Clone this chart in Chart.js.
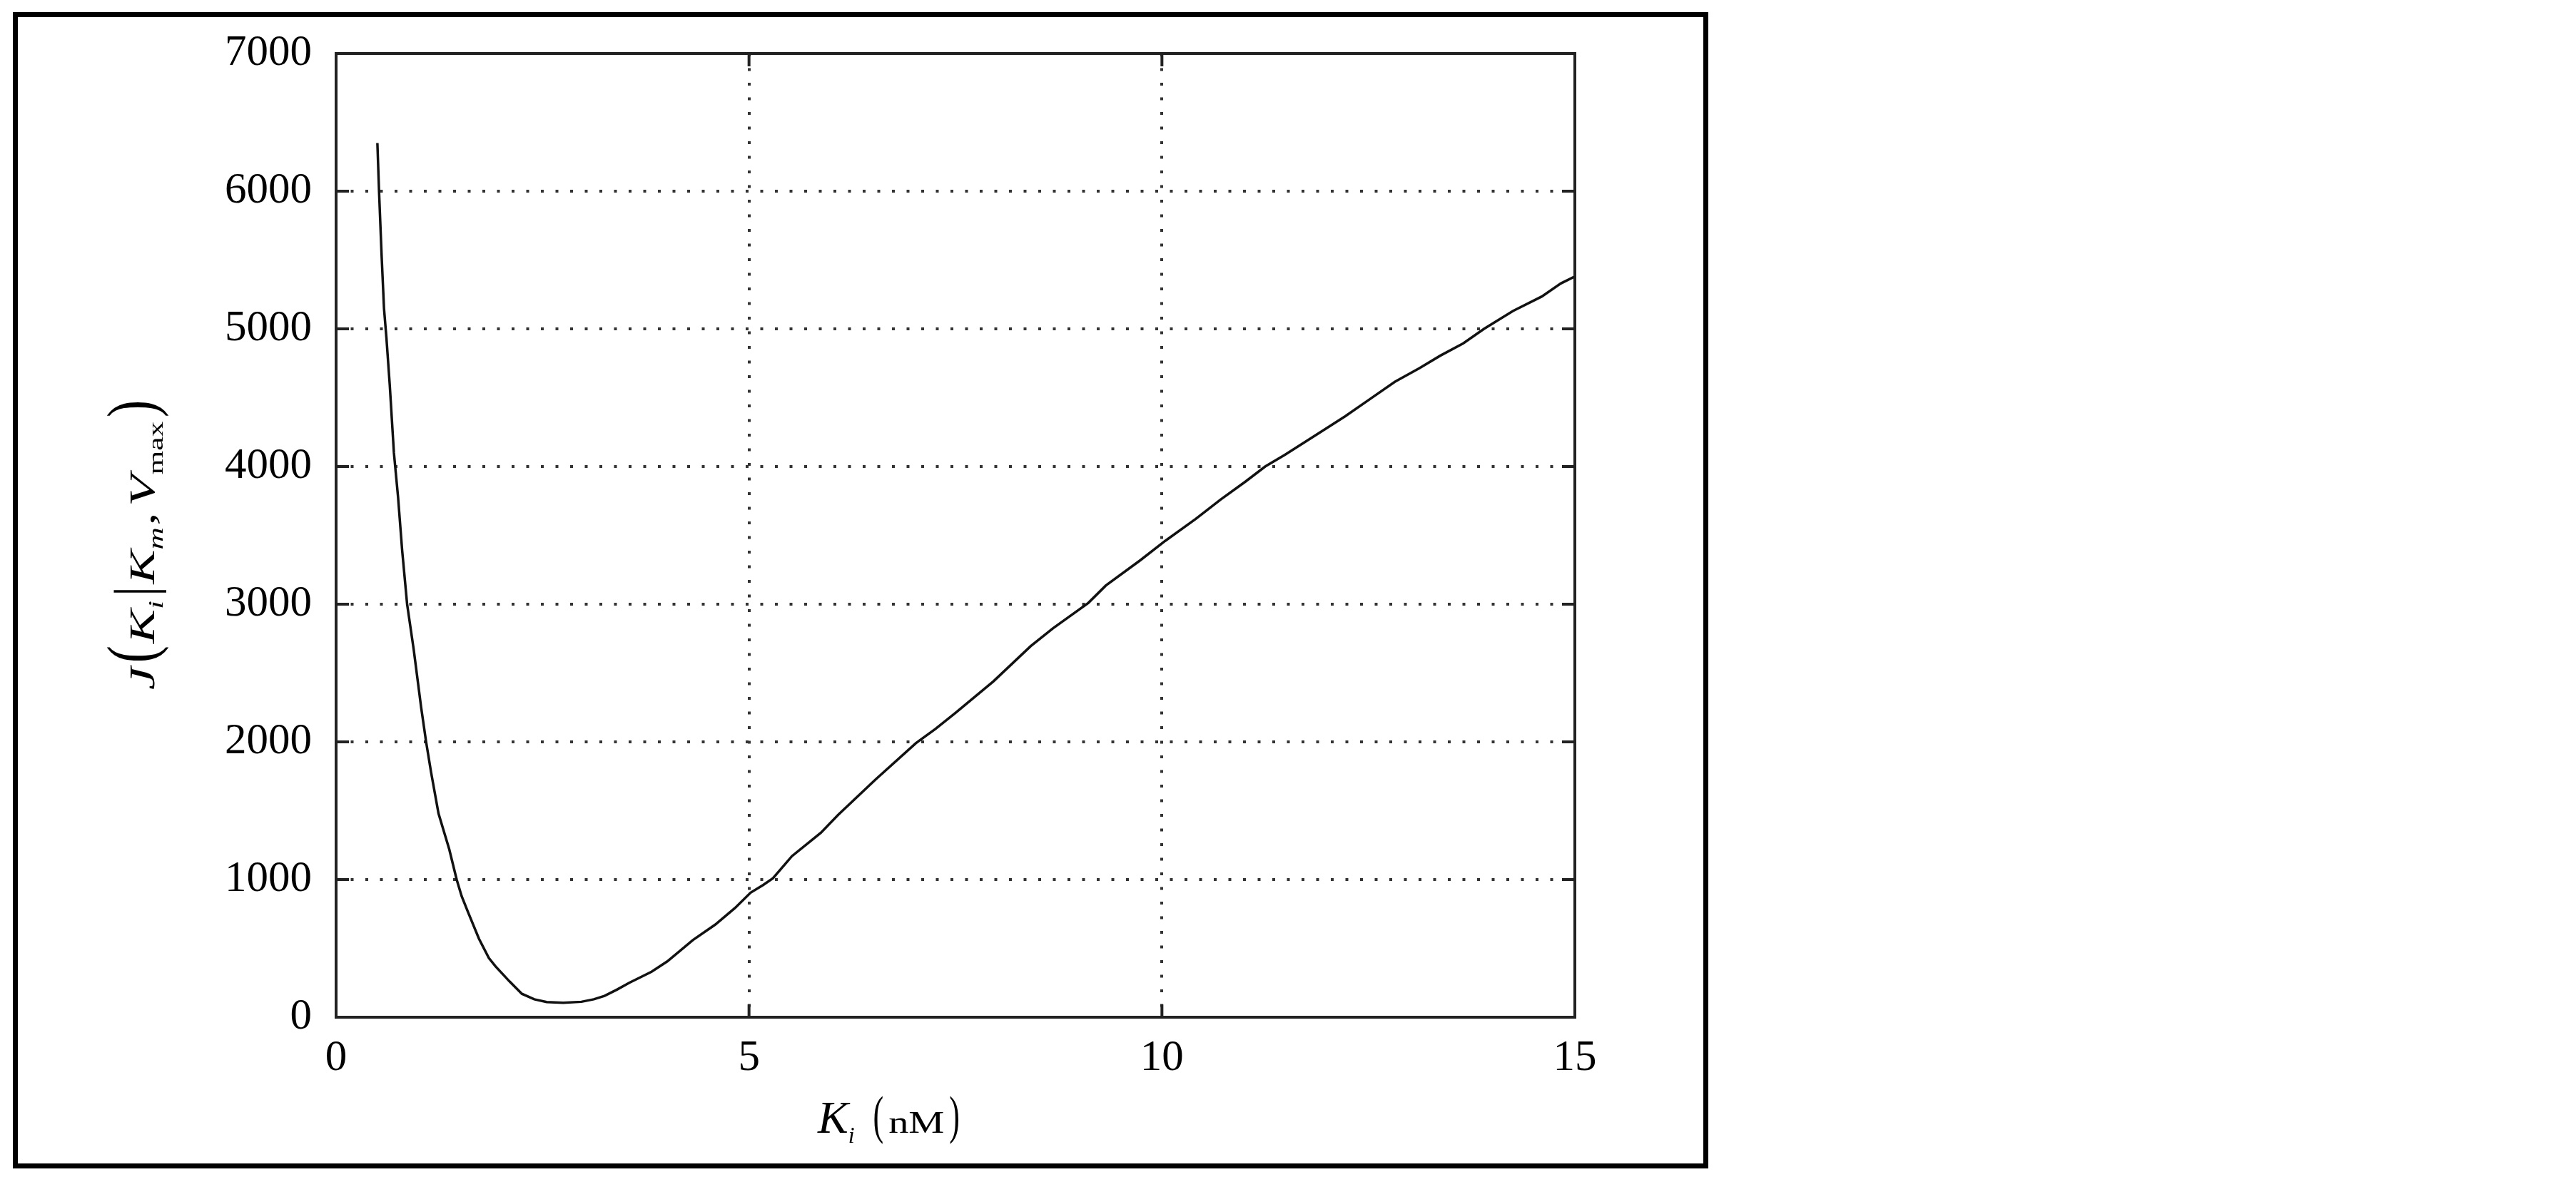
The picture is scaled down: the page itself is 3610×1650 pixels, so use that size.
<!DOCTYPE html>
<html>
<head>
<meta charset="utf-8">
<title>J(Ki | Km, Vmax)</title>
<script src="https://cdn.jsdelivr.net/npm/chart.js@4.4.0/dist/chart.umd.min.js"></script>
<style>
  html, body { margin: 0; padding: 0; background: #fff; }
  #wrap { position: relative; width: 3610px; height: 1650px; }
  #frame {
    position: absolute; left: 18px; top: 17px; width: 2376px; height: 1621px;
    border: 7px solid #000; box-sizing: border-box;
  }
  #chart { position: absolute; left: 0; top: 0; }
</style>
</head>
<body>
<div id="wrap">
  <div id="frame"></div>
  <canvas id="chart" width="3610" height="1650"></canvas>
</div>
<script>
// Ki (nM) on the x axis, objective J on the y axis
const kiValues = [
  0.5, 0.52, 0.55, 0.58, 0.61, 0.65, 0.7, 0.75, 0.8, 0.86,
  0.94, 1.03, 1.09, 1.15, 1.24, 1.3, 1.37, 1.46, 1.52, 1.6,
  1.73, 1.85, 1.93, 2.1, 2.25, 2.4, 2.55, 2.75, 2.97, 3.12,
  3.25, 3.4, 3.55, 3.82, 4.01, 4.32, 4.59, 4.83, 5.02, 5.17,
  5.29, 5.52, 5.87, 6.08, 6.53, 7.02, 7.26, 7.5, 7.96, 8.41,
  8.68, 9.11, 9.32, 9.74, 10.04, 10.41, 10.71, 11.01, 11.25, 11.49,
  11.92, 12.22, 12.52, 12.82, 13.12, 13.37, 13.65, 13.9, 14.25, 14.6,
  14.83, 15
];
const jValues = [
  6350, 6000, 5550, 5150, 4930, 4590, 4100, 3780, 3390, 3000,
  2670, 2250, 2000, 1780, 1480, 1360, 1220, 1000, 880, 760,
  570, 430, 370, 260, 170, 130, 110, 105, 112, 130,
  155, 200, 250, 330, 405, 560, 672, 793, 905, 960,
  1010, 1170, 1340, 1470, 1725, 1990, 2095, 2210, 2440, 2695,
  2825, 3010, 3135, 3320, 3460, 3620, 3760, 3890, 4000, 4085,
  4250, 4365, 4490, 4615, 4715, 4805, 4895, 5000, 5130, 5235,
  5330, 5380
];
const xTicks = [0, 5, 10, 15];
const yTicks = [0, 1000, 2000, 3000, 4000, 5000, 6000, 7000];

const serif = '"Liberation Serif", "Times New Roman", serif';
const tickFont = { family: serif, size: 61 };

// draws a row of text pieces along the baseline, returns its width
function drawRun(ctx, pieces, measureOnly) {
  let x = 0;
  pieces.forEach(p => {
    x += p.gap || 0;
    ctx.font = p.font;
    const w = ctx.measureText(p.text).width * (p.sx || 1);
    if (!measureOnly) {
      // big brackets are stretched round their middle
      const c = p.sy ? ctx.measureText('(').actualBoundingBoxAscent * 0.25 + 4 : 0;
      ctx.save();
      ctx.translate(x, (p.dy || 0) - c);
      ctx.scale(p.sx || 1, p.sy || 1);
      ctx.fillText(p.text, 0, p.sy ? c / p.sy : 0);
      ctx.restore();
    }
    x += w;
  });
  return x;
}

const xTitle = [
  { text: 'K', font: 'italic 64px ' + serif },
  { text: 'i', font: 'italic 32px ' + serif, dy: 14, gap: 0 },
  { text: '(', font: '44px ' + serif, sy: 1.7, gap: 26 },
  { text: 'nM', font: '45px ' + serif, sx: 1.25, gap: 7 },
  { text: ')', font: '44px ' + serif, sy: 1.7, gap: 7 }
];

const yTitle = [
  { text: 'J', font: 'italic 50px ' + serif },
  { text: '(', font: '50px ' + serif, sy: 1.9, gap: 4 },
  { text: 'K', font: 'italic 50px ' + serif, gap: 2 },
  { text: 'i', font: 'italic 30px ' + serif, dy: 12 },
  { text: '|', font: '50px ' + serif, sy: 1.6, gap: 4 },
  { text: 'K', font: 'italic 50px ' + serif, gap: 2 },
  { text: 'm', font: 'italic 30px ' + serif, dy: 12 },
  { text: ',', font: '50px ' + serif, gap: 2 },
  { text: 'V', font: 'italic 50px ' + serif, gap: 6 },
  { text: 'max', font: '30px ' + serif, dy: 12 },
  { text: ')', font: '50px ' + serif, sy: 1.9, gap: 4 }
];

const framePlugin = {
  id: 'framePlugin',
  afterDraw(chart) {
    const { ctx, chartArea: a, scales } = chart;
    ctx.save();
    // plot box
    ctx.strokeStyle = '#222';
    ctx.lineWidth = 4;
    ctx.strokeRect(a.left, a.top, a.right - a.left, a.bottom - a.top);
    // inward ticks on all four sides
    const len = 18;
    ctx.beginPath();
    yTicks.forEach(v => {
      const y = scales.y.getPixelForValue(v);
      ctx.moveTo(a.left, y); ctx.lineTo(a.left + len, y);
      ctx.moveTo(a.right, y); ctx.lineTo(a.right - len, y);
    });
    xTicks.forEach(v => {
      const x = scales.x.getPixelForValue(v);
      ctx.moveTo(x, a.bottom); ctx.lineTo(x, a.bottom - len);
      ctx.moveTo(x, a.top); ctx.lineTo(x, a.top + len);
    });
    ctx.stroke();

    // axis titles
    ctx.fillStyle = '#000';
    ctx.textAlign = 'left';
    ctx.textBaseline = 'alphabetic';
    ctx.save();
    ctx.translate(1146, 1588);
    drawRun(ctx, xTitle);
    ctx.restore();

    const yLen = 406;
    const natural = drawRun(ctx, yTitle, true);
    ctx.save();
    ctx.translate(216, 967);
    ctx.rotate(-Math.PI / 2);
    ctx.scale(yLen / natural, 1);
    drawRun(ctx, yTitle);
    ctx.restore();
    ctx.restore();
  }
};

new Chart(document.getElementById('chart'), {
  type: 'line',
  data: {
    datasets: [{
      data: kiValues.map((k, i) => ({ x: k, y: jValues[i] })),
      borderColor: '#111',
      borderWidth: 3.5,
      pointRadius: 0,
      tension: 0,
      fill: false
    }]
  },
  options: {
    responsive: false,
    animation: false,
    layout: { padding: { left: 0, top: 75, right: 1403, bottom: 0 } },
    plugins: { legend: { display: false }, tooltip: { enabled: false } },
    scales: {
      x: {
        type: 'linear',
        min: 0,
        max: 15,
        afterBuildTicks: s => { s.ticks = xTicks.map(v => ({ value: v })); },
        afterFit: s => { s.height = 224; },
        grid: { color: '#333', lineWidth: 4, drawTicks: false },
        border: { display: false, dash: [4, 16.5] },
        ticks: {
          font: tickFont, color: '#000', padding: 21, maxRotation: 0, autoSkip: false,
          callback: v => String(v)
        }
      },
      y: {
        min: 0,
        max: 7000,
        afterBuildTicks: s => { s.ticks = yTicks.map(v => ({ value: v })); },
        afterFit: s => { s.width = 471; },
        grid: { color: '#333', lineWidth: 4, drawTicks: false },
        border: { display: false, dash: [4, 16.5] },
        ticks: {
          font: tickFont, color: '#000', padding: 34, autoSkip: false,
          callback: v => String(v)
        }
      }
    }
  },
  plugins: [framePlugin]
});
</script>
</body>
</html>
